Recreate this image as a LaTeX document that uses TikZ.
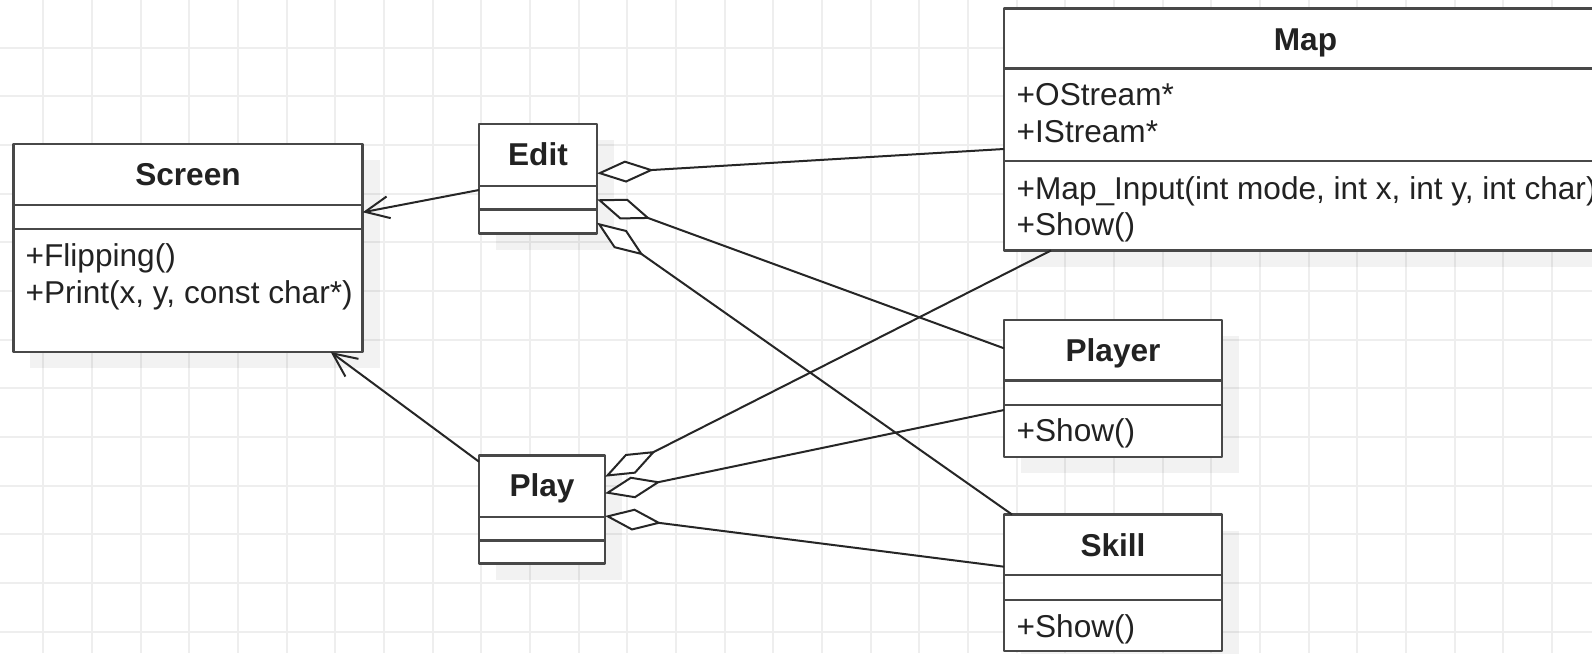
\documentclass[tikz,border=0pt]{standalone}
\usepackage{fontspec}
\setmainfont{Liberation Sans}
\usetikzlibrary{arrows.meta,fit}
\definecolor{gridc}{RGB}{238,238,238}
\definecolor{edgec}{RGB}{72,72,72}
\definecolor{txtc}{RGB}{34,34,34}
\newcommand\umlbox[7]{%
  \fill[black,opacity=0.05,shift={(17,16)}] (#2,#3) rectangle (#4,#5);
  \node[box, fit={(#2,#3) (#4,#5)}] (#1) {};
  \draw[sepline] (#1.west |- 0,#6) -- (#1.east |- 0,#6);
  \draw[sepline] (#1.west |- 0,#7) -- (#1.east |- 0,#7);
}
\begin{document}
\begin{tikzpicture}[x=1pt,y=-1pt,
  box/.style={draw=edgec, line width=2.8pt, fill=white, inner sep=0pt, outer sep=0pt, line join=round},
  sepline/.style={draw=edgec, line width=2.8pt},
  ttl/.style={font=\fontsize{31.6}{37}\selectfont\bfseries, text=txtc, anchor=base, inner sep=0pt},
  mem/.style={font=\fontsize{31.6}{37}\selectfont, text=txtc, anchor=base west, inner sep=0pt},
  conn/.style={draw=black!85, line width=2pt},
  agg/.style={conn, {Diamond[length=57pt,width=22pt,fill=white,line width=2pt]}-},
  dep/.style={conn, -{Straight Barb[length=24pt,width=22pt,line width=2pt]}},
]
\useasboundingbox (0,0) rectangle (1592,653);
\clip (0,0) rectangle (1592,653);
\fill[white] (0,0) rectangle (1592,653);
% grid
\foreach \k in {0,...,33} {
  \draw[gridc, line width=2pt] ({43.3+48.67*(\k-1)},0) -- ++(0,653);
}
\foreach \k in {0,...,14} {
  \draw[gridc, line width=2pt] (0,{-1+48.67*\k}) -- ++(1592,0);
}
% boxes
\umlbox{screen}{13.3}{144}{362.7}{352}{205}{229}
\umlbox{edit}{479}{124}{597}{233.5}{186}{209.5}
\umlbox{play}{479}{455.5}{605}{563.5}{517}{540.5}
\umlbox{map}{1004}{8.5}{1607}{250.5}{68.5}{161}
\umlbox{player}{1004}{320}{1222}{457}{380.5}{405}
\umlbox{skill}{1004}{514.5}{1222}{651}{575}{600}
% texts
\node[ttl] (tscreen) at (188,185.5) {Screen};
\node[mem] (m1) at (25.5,266) {+Flipping()};
\node[mem] (m2) at (25.5,303) {+Print(x, y, const char*)};
\node[ttl] (tedit) at (538,165.5) {Edit};
\node[ttl] (tplay) at (542,496) {Play};
\node[ttl] (tmap) at (1305.5,50) {Map};
\node[mem] (m3) at (1016.5,105) {+OStream*};
\node[mem] (m4) at (1016.5,142) {+IStream*};
\node[mem] (m5) at (1016.5,199) {+Map\_Input(int mode, int x, int y, int char)};
\node[mem] (m6) at (1016.5,235) {+Show()};
\node[ttl] (tplayer) at (1113,361.5) {Player};
\node[mem] (m7) at (1016.5,441.5) {+Show()};
\node[ttl] (tskill) at (1113,556) {Skill};
\node[mem] (m8) at (1016.5,637) {+Show()};
% connector end points on box borders
\coordinate (eW) at (edit.west |- 0,190);
\coordinate (sE) at (screen.east |- 0,212.3);
\coordinate (pW) at (play.west |- 0,461.7);
\coordinate (sS) at (screen.south -| 330.7,0);
\coordinate (eA) at (edit.east |- 0,173.3);
\coordinate (eB) at (edit.east |- 0,199.3);
\coordinate (eC) at (edit.east |- 0,222.7);
\coordinate (pA) at (play.east |- 0,476.7);
\coordinate (pB) at (play.east |- 0,493.3);
\coordinate (pC) at (play.east |- 0,516);
\coordinate (mapW) at (map.west |- 0,149);
\coordinate (mapS) at (map.south -| 1051,0);
\coordinate (plA) at (player.west |- 0,348.3);
\coordinate (plB) at (player.west |- 0,410);
\coordinate (skN) at (skill.north -| 1012,0);
\coordinate (skW) at (skill.west |- 0,566.7);
% connectors
\draw[dep] (eW) -- (sE);
\draw[dep] (pW) -- (sS);
\draw[agg] (eA) -- (mapW);
\draw[agg] (eB) -- (plA);
\draw[agg] (eC) -- (skN);
\draw[agg] (pA) -- (mapS);
\draw[agg] (pB) -- (plB);
\draw[agg] (pC) -- (skW);
\end{tikzpicture}
\end{document}
